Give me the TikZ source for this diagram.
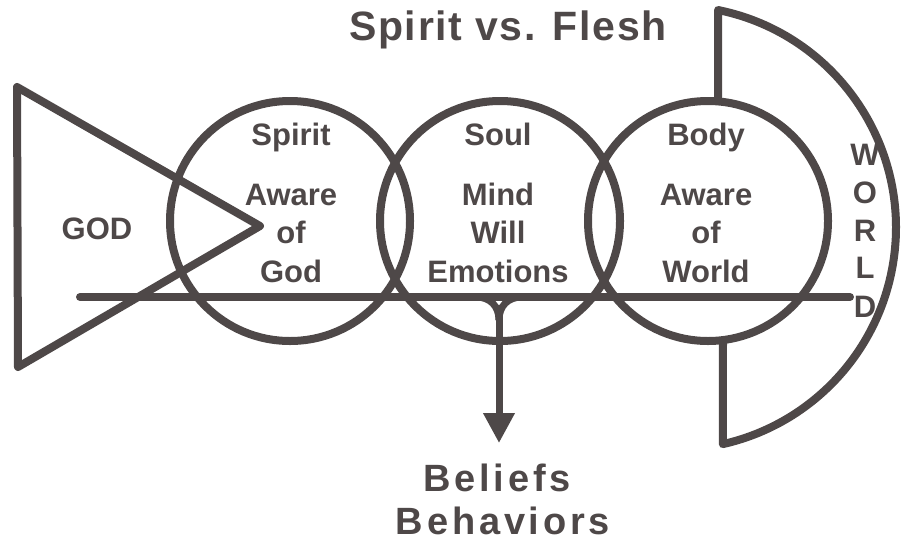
\documentclass[tikz,border=0pt]{standalone}
\usepackage{fontspec}
\setmainfont{Liberation Sans}
\usetikzlibrary{arrows.meta}
\definecolor{ink}{RGB}{78,72,72}
\begin{document}
\begin{tikzpicture}[x=1pt,y=-1pt,
  stroke/.style={draw=ink, line width=8pt},
  ring/.style={circle, stroke, minimum size=240pt, inner sep=0pt},
  lbl/.style={text=ink, font=\fontsize{31}{31}\selectfont\bfseries, anchor=base, inner sep=0pt},
  big/.style={text=ink, font=\fontsize{38}{38}\selectfont\bfseries\addfontfeature{LetterSpace=10}, anchor=base, inner sep=0pt},
  headline/.style={text=ink, font=\fontsize{41}{41}\selectfont\bfseries\addfontfeature{LetterSpace=4}, anchor=base, inner sep=0pt},
]
\useasboundingbox (0,0) rectangle (904,541);

% circles
\node[ring] (spirit) at (290,221) {};
\node[ring] (soul) at (500,221) {};
\node[ring] (body) at (708,221) {};

% God triangle
\draw[stroke, line join=round] (17,87) -- (260,226) -- (18,367) -- cycle;

% World shape
\draw[stroke, line join=round] (718,101.4) -- (718,10)
  arc[start angle=78.56, end angle=-77.3, radius=222pt] -- (723,340);

% horizontal line
\coordinate (lineL) at (80,297);
\coordinate (lineR) at (850,297);
\draw[stroke, line cap=round] (lineL) -- (lineR);

% branch to behaviour
\coordinate (bl) at (476,297);
\coordinate (br) at (522,297);
\coordinate (join) at (499,320);
\coordinate (tip) at (499,443);
\draw[stroke, line width=7pt] (bl) .. controls (490,297) and (499,306) .. (join);
\draw[stroke, line width=7pt] (br) .. controls (508,297) and (499,306) .. (join);
\draw[stroke, line width=7pt, -{Triangle[length=30pt,width=30pt]}] (499,305) -- (tip);

% texts
\node[headline] (title) at (508,40) {Spirit vs. Flesh};
\node[lbl] (god) at (97,239) {GOD};

\node[lbl] (s1) at (291,145) {Spirit};
\node[lbl] (s2) at (291,205) {Aware};
\node[lbl] (s3) at (291,243) {of};
\node[lbl] (s4) at (291,282) {God};

\node[lbl] (m1) at (498,145) {Soul};
\node[lbl] (m2) at (498,205) {Mind};
\node[lbl] (m3) at (498,243) {Will};
\node[lbl] (m4) at (498,282) {Emotions};

\node[lbl] (b1) at (706,145) {Body};
\node[lbl] (b2) at (706,205) {Aware};
\node[lbl] (b3) at (706,243) {of};
\node[lbl] (b4) at (706,282) {World};

\node[lbl] (w1) at (865,165) {W};
\node[lbl] (w2) at (865,203) {O};
\node[lbl] (w3) at (865,241) {R};
\node[lbl] (w4) at (865,278) {L};
\node[lbl] (w5) at (865,317) {D};

\node[big] (beliefs) at (497,491) {Beliefs};
\node[big] (behaviors) at (503,534) {Behaviors};
\end{tikzpicture}
\end{document}
